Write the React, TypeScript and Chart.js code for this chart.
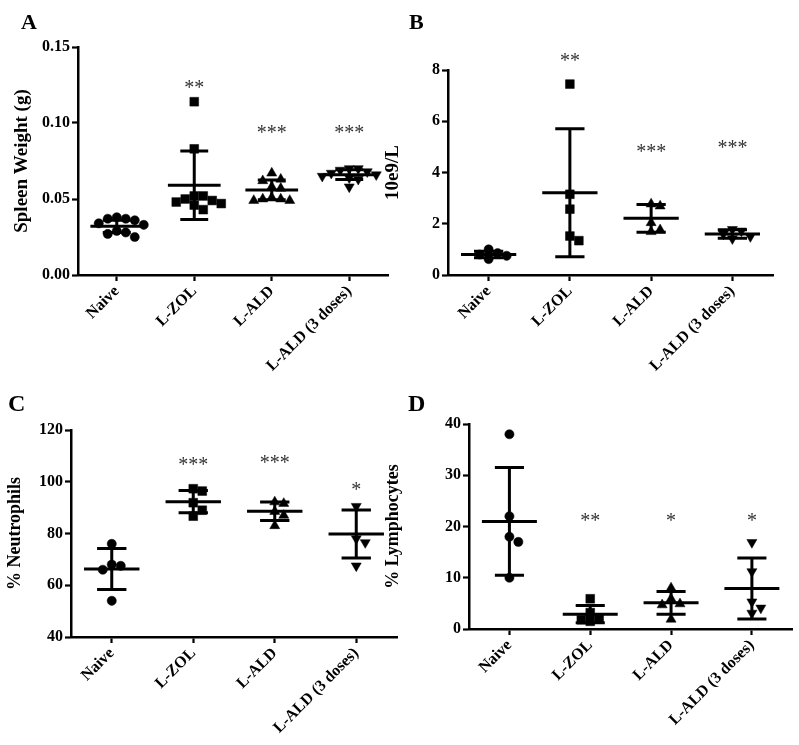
import React, { useEffect, useRef } from 'react';
import { Chart, registerables } from 'chart.js';

Chart.register(...registerables);

// ---------------- DATA ----------------
const categories = ['Naive', 'L-ZOL', 'L-ALD', 'L-ALD (3 doses)'];

// Panel A – Spleen weight (g)
const spleenNaive = [0.038, 0.037, 0.037, 0.036, 0.034, 0.033, 0.029, 0.028, 0.027, 0.025];
const spleenZol = [0.114, 0.083, 0.052, 0.052, 0.05, 0.049, 0.048, 0.047, 0.046, 0.043];
const spleenAld = [0.067, 0.063, 0.062, 0.058, 0.057, 0.051, 0.05, 0.05, 0.049, 0.049];
const spleenAld3 = [0.07, 0.07, 0.069, 0.068, 0.067, 0.066, 0.065, 0.064, 0.063, 0.058];
const spleenMeans = [0.032, 0.059, 0.056, 0.066];
const spleenSD = [0.004, 0.0225, 0.0065, 0.0032];
const spleenStars = ['', '**', '***', '***'];
const spleenStarLevels = [null, 0.125, 0.0955, 0.0955];
const spleenTicks = [0, 0.05, 0.1, 0.15];
const spleenTickLabels = ['0.00', '0.05', '0.10', '0.15'];

// Panel B – 10e9/L
const countNaive = [1.0, 0.85, 0.8, 0.75, 0.62];
const countZol = [7.45, 3.15, 2.57, 1.52, 1.34];
const countAld = [2.77, 2.69, 2.04, 1.76, 1.69];
const countAld3 = [1.78, 1.72, 1.6, 1.5, 1.42];
const countMeans = [0.8, 3.21, 2.21, 1.6];
const countSD = [0.13, 2.5, 0.54, 0.17];
const countStars = ['', '**', '***', '***'];
const countStarLevels = [null, 8.5, 4.95, 5.07];
const countTicks = [0, 2, 4, 6, 8];
const countTickLabels = ['0', '2', '4', '6', '8'];

// Panel C – % Neutrophils
const neutNaive = [76, 68, 67.5, 66, 54];
const neutZol = [97.3, 96.4, 91.9, 89, 86.7];
const neutAld = [92.2, 91.6, 88.5, 87, 83];
const neutAld3 = [90.5, 78, 76.5, 67.5];
const neutMeans = [66.3, 92.3, 88.6, 79.8];
const neutSD = [7.9, 4.3, 3.6, 9.3];
const neutStars = ['', '***', '***', '*'];
const neutStarLevels = [null, 107.8, 108.7, 98.2];
const neutTicks = [40, 60, 80, 100, 120];
const neutTickLabels = ['40', '60', '80', '100', '120'];

// Panel D – % Lymphocytes
const lymNaive = [38, 22, 18, 17, 10];
const lymZol = [5.9, 3.2, 2, 1.8, 1.5];
const lymAld = [8, 5.9, 4.9, 4.7, 1.9];
const lymAld3 = [16.9, 11.2, 5.3, 4.1, 3.1];
const lymMeans = [21, 2.9, 5.1, 7.9];
const lymSD = [10.5, 1.7, 2.2, 5.95];
const lymStars = ['', '**', '*', '*'];
const lymStarLevels = [null, 21.75, 21.75, 21.75];
const lymTicks = [0, 10, 20, 30, 40];
const lymTickLabels = ['0', '10', '20', '30', '40'];

// ---------------- STYLE / LAYOUT ----------------
const W = 799;
const H = 745;
const FONT = '"Liberation Serif", "Times New Roman", serif';
const markerStyles = ['circle', 'rect', 'triangle', 'triangle'];
const markerRotations = [0, 0, 0, 180];
const markerRadii = [4.6, 6.2, 5.8, 5.8];
const MEAN_HALF = 0.34;
const CAP_HALF = 0.18;
const DIAM = 9;

interface PanelCfg {
  letter: string;
  letterX: number;
  letterY: number;
  letterSize: number;
  title: string;
  titleSize: number;
  titleX: number;
  left: number;
  right: number;
  top: number;
  bottom: number;
  groups: number[][];
  means: number[];
  sds: number[];
  stars: string[];
  starLevels: (number | null)[];
  ticks: number[];
  tickLabels: string[];
}

const panels: PanelCfg[] = [
  {
    letter: 'A', letterX: 21, letterY: 29, letterSize: 22,
    title: 'Spleen Weight (g)', titleSize: 19, titleX: 22,
    left: 78, right: 388, top: 47, bottom: 275,
    groups: [spleenNaive, spleenZol, spleenAld, spleenAld3],
    means: spleenMeans, sds: spleenSD, stars: spleenStars, starLevels: spleenStarLevels,
    ticks: spleenTicks, tickLabels: spleenTickLabels,
  },
  {
    letter: 'B', letterX: 409, letterY: 29, letterSize: 22,
    title: '10e9/L', titleSize: 19, titleX: 393,
    left: 448, right: 773, top: 70, bottom: 275,
    groups: [countNaive, countZol, countAld, countAld3],
    means: countMeans, sds: countSD, stars: countStars, starLevels: countStarLevels,
    ticks: countTicks, tickLabels: countTickLabels,
  },
  {
    letter: 'C', letterX: 8, letterY: 411, letterSize: 24,
    title: '% Neutrophils', titleSize: 18, titleX: 15,
    left: 71, right: 397, top: 430, bottom: 637,
    groups: [neutNaive, neutZol, neutAld, neutAld3],
    means: neutMeans, sds: neutSD, stars: neutStars, starLevels: neutStarLevels,
    ticks: neutTicks, tickLabels: neutTickLabels,
  },
  {
    letter: 'D', letterX: 408, letterY: 411, letterSize: 24,
    title: '% Lymphocytes', titleSize: 18, titleX: 393,
    left: 469, right: 795, top: 424, bottom: 629,
    groups: [lymNaive, lymZol, lymAld, lymAld3],
    means: lymMeans, sds: lymSD, stars: lymStars, starLevels: lymStarLevels,
    ticks: lymTicks, tickLabels: lymTickLabels,
  },
];

// beeswarm layout: returns horizontal offsets (in category units)
function swarm(values: number[], pxPerUnit: number, catPx: number): number[] {
  const order = values.map((_, i) => i).sort((a, b) => values[b] - values[a]);
  const placed: { x: number; y: number }[] = [];
  const out = new Array(values.length).fill(0);
  for (const i of order) {
    const y = values[i] * pxPerUnit;
    let x = 0;
    for (let s = 0; s < 30; s++) {
      const cand = s === 0 ? 0 : (s % 2 === 1 ? 1 : -1) * Math.ceil(s / 2) * DIAM;
      if (placed.every((p) => Math.hypot(p.x - cand, p.y - y) >= DIAM * 0.95)) {
        x = cand;
        break;
      }
    }
    placed.push({ x, y });
    out[i] = x / catPx;
  }
  return out;
}

function buildConfig(p: PanelCfg): any {
  const yMin = p.ticks[0];
  const yMax = p.ticks[p.ticks.length - 1];
  const pxPerUnit = (p.bottom - p.top) / (yMax - yMin);
  const catPx = (p.right - p.left) / categories.length;
  const padLeft = p.titleX - (p.titleSize * 1.2) / 2;

  const datasets: any[] = [];
  p.groups.forEach((vals, g) => {
    const offs = swarm(vals, pxPerUnit, catPx);
    datasets.push({
      label: categories[g],
      data: vals.map((v, j) => ({ x: g + offs[j], y: v })),
      pointStyle: markerStyles[g],
      pointRotation: markerRotations[g],
      pointRadius: markerRadii[g],
      backgroundColor: '#000',
      borderColor: '#000',
      borderWidth: 0.5,
      showLine: false,
      clip: false,
      order: 2,
    });
  });

  const meanData: any[] = [];
  const sdData: any[] = [];
  p.means.forEach((m, g) => {
    const s = p.sds[g];
    meanData.push({ x: g - MEAN_HALF, y: m }, { x: g + MEAN_HALF, y: m }, { x: g + 0.5, y: null });
    sdData.push(
      { x: g, y: m - s }, { x: g, y: m + s }, { x: g, y: null },
      { x: g - CAP_HALF, y: m + s }, { x: g + CAP_HALF, y: m + s }, { x: g, y: null },
      { x: g - CAP_HALF, y: m - s }, { x: g + CAP_HALF, y: m - s }, { x: g, y: null }
    );
  });
  const lineDs = {
    showLine: true,
    borderColor: '#000',
    backgroundColor: '#000',
    borderWidth: 3,
    pointRadius: 0,
    spanGaps: false,
    clip: false,
    order: 1,
  };
  datasets.push({ ...lineDs, label: 'mean', data: meanData });
  datasets.push({ ...lineDs, label: 'sd', data: sdData });

  const annot = {
    id: 'annot' + p.letter,
    afterDraw(chart: any) {
      const ctx = chart.ctx;
      const xs = chart.scales.x;
      const ys = chart.scales.y;
      ctx.save();
      ctx.fillStyle = '#333';
      ctx.font = `20px ${FONT}`;
      ctx.textAlign = 'center';
      ctx.textBaseline = 'alphabetic';
      p.stars.forEach((st, g) => {
        const lvl = p.starLevels[g];
        if (!st || lvl === null) return;
        ctx.fillText(st, xs.getPixelForValue(g), ys.getPixelForValue(lvl) + 0.47 * 20);
      });
      ctx.fillStyle = '#000';
      ctx.font = `bold ${p.letterSize}px ${FONT}`;
      ctx.textAlign = 'left';
      ctx.fillText(p.letter, p.letterX, p.letterY);
      ctx.restore();
    },
  };

  const gridOpts = {
    display: true,
    drawOnChartArea: false,
    drawTicks: true,
    tickLength: 6,
    tickWidth: 2.2,
    tickColor: '#000',
  };
  const borderOpts = { display: true, color: '#000', width: 2.5 };

  return {
    type: 'scatter',
    data: { datasets },
    plugins: [annot],
    options: {
      responsive: false,
      animation: false,
      events: [],
      layout: { padding: { left: padLeft, right: W - p.right, top: p.top, bottom: 0 } },
      plugins: { legend: { display: false }, tooltip: { enabled: false } },
      scales: {
        x: {
          type: 'linear',
          min: -0.5,
          max: categories.length - 0.5,
          afterBuildTicks: (ax: any) => {
            ax.ticks = categories.map((_, i) => ({ value: i }));
          },
          afterFit: (ax: any) => {
            ax.height = H - p.bottom;
            ax.paddingLeft = 0;
            ax.paddingRight = 0;
          },
          ticks: {
            callback: (_v: any, i: number) => categories[i],
            minRotation: 45,
            maxRotation: 45,
            autoSkip: false,
            padding: 1,
            color: '#000',
            font: { family: FONT, size: 16, weight: 'bold' },
          },
          grid: gridOpts,
          border: borderOpts,
        },
        y: {
          type: 'linear',
          min: yMin,
          max: yMax,
          afterBuildTicks: (ax: any) => {
            ax.ticks = p.ticks.map((v) => ({ value: v }));
          },
          afterFit: (ax: any) => {
            ax.width = p.left - padLeft;
            ax.paddingTop = 0;
            ax.paddingBottom = 0;
          },
          ticks: {
            callback: (_v: any, i: number) => p.tickLabels[i],
            padding: 2,
            color: '#000',
            font: { family: FONT, size: 16, weight: 'bold' },
          },
          title: {
            display: true,
            text: p.title,
            color: '#000',
            padding: { top: 0, bottom: 0 },
            font: { family: FONT, size: p.titleSize, weight: 'bold' },
          },
          grid: gridOpts,
          border: borderOpts,
        },
      },
    },
  };
}

function Panel({ cfg }: { cfg: PanelCfg }) {
  const ref = useRef<HTMLCanvasElement>(null);
  useEffect(() => {
    const chart = new Chart(ref.current as HTMLCanvasElement, buildConfig(cfg));
    return () => chart.destroy();
  }, [cfg]);
  return (
    <canvas
      ref={ref}
      width={W}
      height={H}
      style={{ position: 'absolute', left: 0, top: 0, width: W, height: H }}
    />
  );
}

export default function App() {
  return (
    <div
      style={{
        position: 'absolute',
        left: 0,
        top: 0,
        width: W,
        height: H,
        background: '#fff',
        overflow: 'hidden',
      }}
    >
      {panels.map((p) => (
        <Panel key={p.letter} cfg={p} />
      ))}
    </div>
  );
}
